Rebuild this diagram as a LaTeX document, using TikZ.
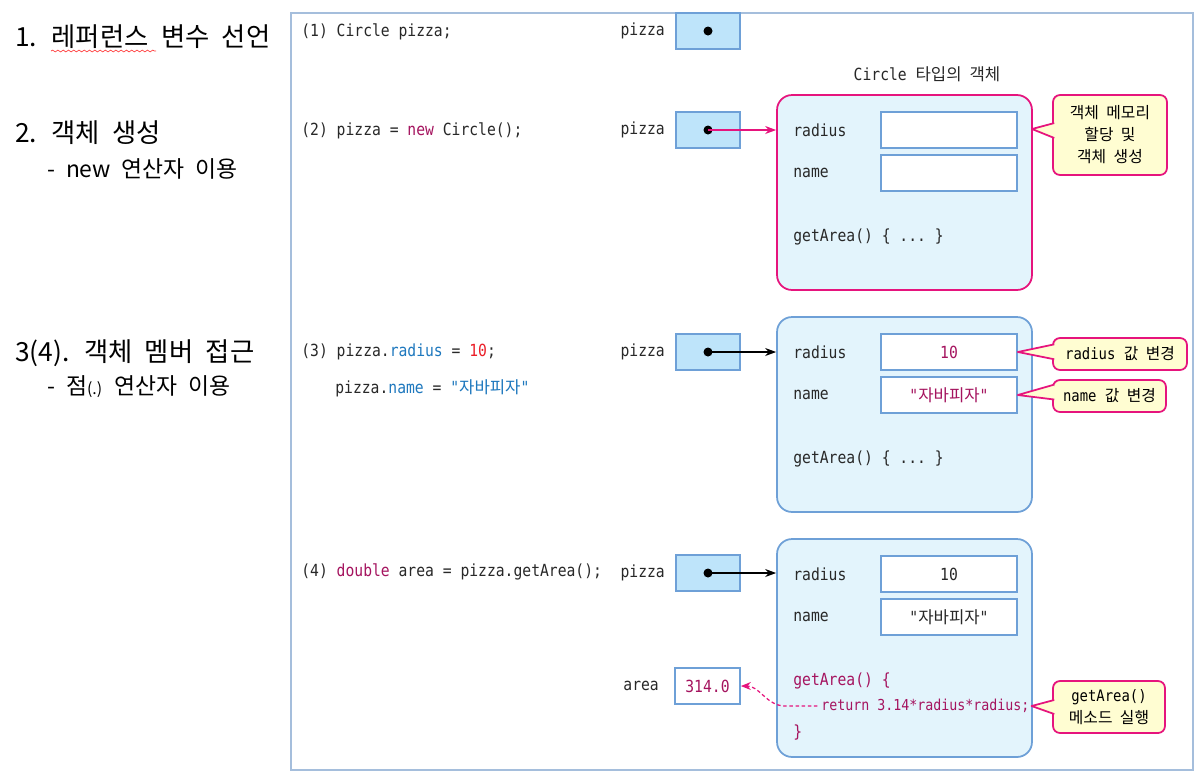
\documentclass[tikz,border=0pt]{standalone}
\usepackage{fontspec}
\setmainfont[WordSpace=2.1]{Noto Sans CJK KR}
\setmonofont[FakeStretch=0.88]{DejaVu Sans Mono}
\usepackage{tikz}
\usetikzlibrary{positioning,arrows.meta,decorations.pathmorphing}
\definecolor{FrameBlue}{RGB}{165,190,220}
\definecolor{BoxBlue}{RGB}{110,160,215}
\definecolor{RefFill}{RGB}{190,228,250}
\definecolor{ObjFill}{RGB}{227,244,252}
\definecolor{PinkLine}{RGB}{230,20,125}
\definecolor{NoteFill}{RGB}{255,253,210}
\definecolor{KeyMag}{RGB}{165,20,95}
\definecolor{VarBlue}{RGB}{30,120,190}
\definecolor{NumRed}{RGB}{235,30,40}
\definecolor{CodeInk}{RGB}{40,40,40}
\newcommand{\kr}[1]{{\rmfamily #1}}
\newcommand{\kw}[1]{\textcolor{KeyMag}{#1}}
\newcommand{\vr}[1]{\textcolor{VarBlue}{#1}}
\newcommand{\nm}[1]{\textcolor{NumRed}{#1}}
\newcommand{\codefont}{\ttfamily\fontsize{9.5}{11}\selectfont}
\newcommand{\retfont}{\ttfamily\fontsize{8.6}{10}\selectfont}
\newcommand{\notefont}{\fontsize{9}{12.5}\selectfont}
\tikzset{
  head/.style={anchor=base west, inner sep=0pt, font=\fontsize{15}{18}\selectfont},
  subhead/.style={anchor=base west, inner sep=0pt, font=\fontsize{13}{15}\selectfont},
  code/.style={anchor=west, inner sep=0pt, font=\codefont, text=CodeInk},
  lbl/.style={inner sep=0pt, font=\codefont, text=CodeInk},
  refbox/.style={rectangle, draw=BoxBlue, fill=RefFill, line width=1pt,
    minimum width=1.28cm, minimum height=0.72cm},
  dot/.style={circle, fill=black, inner sep=0pt, minimum size=0.18cm},
  objbox/.style={rectangle, rounded corners=0.3cm, fill=ObjFill, line width=1pt,
    minimum width=5.1cm, minimum height=3.9cm},
  field/.style={rectangle, draw=BoxBlue, fill=white, line width=1pt,
    minimum width=2.72cm, minimum height=0.72cm, font=\codefont, text=CodeInk},
  note/.style={rectangle, rounded corners=4pt, draw=PinkLine, fill=NoteFill,
    line width=1pt, align=center, font=\notefont},
  notetip/.style={draw=PinkLine, fill=NoteFill, line width=1pt, line join=round},
  ptr/.style={-{Stealth[length=2.2mm,width=1.6mm]}, line width=0.8pt}
}
\begin{document}
\begin{tikzpicture}[x=0.02cm, y=-0.02cm]
  \useasboundingbox (0,0) rectangle (1197,779);
  \draw[FrameBlue, line width=0.8pt, fill=white] (291,13) rectangle (1193,770);

  % left headings
  \node[head] (h1) at (15,46) {1. 레퍼런스 변수 선언};
  \draw[red!75, line width=0.4pt, decorate,
    decoration={snake, amplitude=0.5pt, segment length=3pt}] (51,51) -- (156,51);
  \node[head] (h2) at (15,142) {2. 객체 생성};
  \node[subhead] (h2s) at (47,177) {- new 연산자 이용};
  \node[head] (h3) at (15,361) {3(4). 객체 멤버 접근};
  \node[subhead] (h3s) at (47,394) {- 점{\fontsize{9}{10}\selectfont(.)} 연산자 이용};

  % code lines
  \node[code] (s1) at (301,32) {(1) Circle pizza;};
  \node[code] (s2) at (301,131) {(2) pizza = \kw{new} Circle();};
  \node[code] (s3) at (301,352) {(3) pizza.\vr{radius} = \nm{10};};
  \node[code] (s3b) at (335,388) {pizza.\vr{name} = \vr{"\kr{자바피자}"}};
  \node[code] (s4) at (301,572) {(4) \kw{double} area = pizza.getArea();};

  % reference variables
  \node[refbox] (r1) at (708,31) {};
  \node[refbox] (r2) at (708,130) {};
  \node[refbox] (r3) at (708,352) {};
  \node[refbox] (r4) at (708,573) {};
  \node[dot] (d1) at (r1) {};
  \node[dot] (d2) at (r2) {};
  \node[dot] (d3) at (r3) {};
  \node[dot] (d4) at (r4) {};
  \node[lbl, left=0.2cm of r1] (p1) {pizza};
  \node[lbl, left=0.2cm of r2] (p2) {pizza};
  \node[lbl, left=0.2cm of r3] (p3) {pizza};
  \node[lbl, left=0.2cm of r4] (p4) {pizza};

  % object after new
  \node[lbl] (t1) at (927,74) {Circle \kr{타입의 객체}};
  \node[objbox, draw=PinkLine] (o1) at (904.5,192.5) {};
  \node[lbl, anchor=west] (o1r) at (793,130) {radius};
  \node[lbl, anchor=west] (o1n) at (793,173) {name};
  \node[field] (f1r) at (949,130) {};
  \node[field] (f1n) at (949,173) {};
  \node[lbl, anchor=west] (o1m) at (793,237) {getArea() \{ ... \}};

  % object after member access
  \node[objbox, draw=BoxBlue] (o2) at (904.5,414.5) {};
  \node[lbl, anchor=west] (o2r) at (793,352) {radius};
  \node[lbl, anchor=west] (o2n) at (793,395) {name};
  \node[field, text=KeyMag] (f2r) at (949,352) {10};
  \node[field, text=KeyMag] (f2n) at (949,395) {"\kr{자바피자}"};
  \node[lbl, anchor=west] (o2m) at (793,459) {getArea() \{ ... \}};

  % object during getArea()
  \node[objbox, draw=BoxBlue, minimum height=4.36cm] (o3) at (904.5,648) {};
  \node[lbl, anchor=west] (o3r) at (793,574) {radius};
  \node[lbl, anchor=west] (o3n) at (793,617) {name};
  \node[field] (f3r) at (949,574) {10};
  \node[field] (f3n) at (949,617) {"\kr{자바피자}"};
  \node[lbl, anchor=west, text=KeyMag] (o3m) at (793,681) {getArea() \{};
  \node[lbl, anchor=west, text=KeyMag, font=\retfont] (ret) at (821,706) {return 3.14*radius*radius;};
  \node[lbl, anchor=west, text=KeyMag] (o3e) at (793,733) {\}};
  \node[field, minimum width=1.3cm, text=KeyMag] (ar) at (707.5,686) {314.0};
  \node[lbl, left=0.3cm of ar] (al) {area};

  % notes
  \node[note, minimum width=2.28cm, minimum height=1.6cm] (k1) at (1110,135) {객체 메모리\\할당 및\\객체 생성};
  \node[note, minimum width=2.68cm, minimum height=0.64cm] (k2) at (1120,354) {\ttfamily radius \kr{값 변경}};
  \node[note, minimum width=2.26cm, minimum height=0.64cm] (k3) at (1109.5,396) {\ttfamily name \kr{값 변경}};
  \node[note, minimum width=2.24cm, minimum height=1.04cm] (k4) at (1109,707) {\ttfamily getArea()\\\kr{메소드 실행}};
  \coordinate (k1tip) at (1032,129);
  \filldraw[notetip] ([xshift=1.2pt,yshift=6.8pt]k1.west) -- (k1tip) -- ([xshift=1.2pt,yshift=-1.7pt]k1.west);
  \filldraw[notetip] ([xshift=1.2pt,yshift=5.5pt]k2.west) -- (f2r.east) -- ([xshift=1.2pt,yshift=-3pt]k2.west);
  \filldraw[notetip] ([xshift=1.2pt,yshift=6.5pt]k3.west) -- (f2n.east) -- ([xshift=1.2pt,yshift=-2pt]k3.west);
  \filldraw[notetip] ([xshift=1.2pt,yshift=4pt]k4.west) -- ([xshift=1pt]ret.east) -- ([xshift=1.2pt,yshift=-4pt]k4.west);

  % references
  \draw[ptr, PinkLine] (d2.center) -- (d2.center -| o1.west);
  \draw[ptr] (d3.center) -- (d3.center -| o2.west);
  \draw[ptr] (d4.center) -- (d4.center -| o3.west);
  \draw[PinkLine, line width=0.7pt, dash pattern=on 2pt off 1.5pt,
    -{Stealth[length=2mm,width=1.6mm]}] ([xshift=-2pt]ret.west) -- ++(-32,0)
    to[out=180, in=0] (ar.east);
\end{tikzpicture}
\end{document}
